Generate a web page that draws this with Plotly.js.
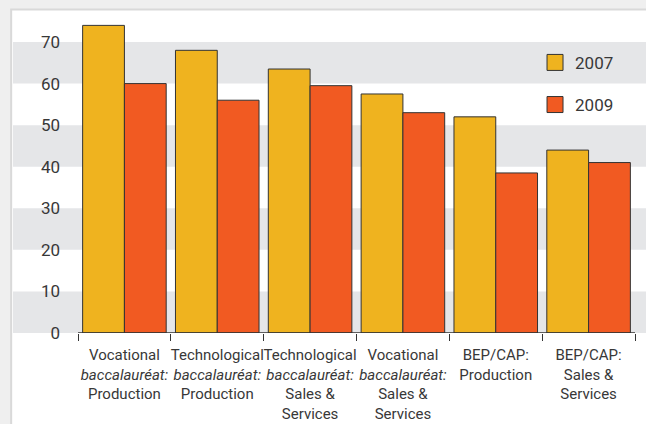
<!DOCTYPE html>
<html>
<head>
<meta charset="utf-8">
<script src="https://cdn.plot.ly/plotly-3.0.1.min.js"></script>
<style>html,body{margin:0;padding:0;background:#efefef;}#chart{width:646px;height:424px;}</style>
</head>
<body>
<div id="chart"></div>
<script>
var categories = [
  "Vocational<br><i>baccalauréat:</i><br>Production",
  "Technological<br><i>baccalauréat:</i><br>Production",
  "Technological<br><i>baccalauréat:</i><br>Sales &amp;<br>Services",
  "Vocational<br><i>baccalauréat:</i><br>Sales &amp;<br>Services",
  "BEP/CAP:<br>Production",
  "BEP/CAP:<br>Sales &amp;<br>Services"
];
var values2007 = [74, 68, 63.5, 57.5, 52, 44];
var values2009 = [60, 56, 59.5, 53, 38.5, 41];
var seriesNames = ["2007", "2009"];
var yTicks = [0, 10, 20, 30, 40, 50, 60, 70];

var col2007 = "#EFB31F", col2009 = "#F15A22", edge = "#333333";
var FONT = "Roboto, Liberation Sans, sans-serif";

var traces = [
  {type: "bar", x: categories, y: values2007, name: seriesNames[0], showlegend: false,
   marker: {color: col2007, line: {color: edge, width: 1}}, hoverinfo: "y"},
  {type: "bar", x: categories, y: values2009, name: seriesNames[1], showlegend: false,
   marker: {color: col2009, line: {color: edge, width: 1}}, hoverinfo: "y"},
  {type: "scatter", mode: "markers", x: [null], y: [null], name: seriesNames[0], legendgroup: "a",
   marker: {symbol: "square", size: 16, color: col2007, line: {color: edge, width: 1}}},
  {type: "scatter", mode: "markers", x: [null], y: [null], name: seriesNames[1], legendgroup: "b",
   marker: {symbol: "square", size: 16, color: col2009, line: {color: edge, width: 1}}}
];

var shapes = [
  {type: "rect", xref: "paper", yref: "paper", x0: -0.12, x1: 1.1, y0: -0.5, y1: 1.0015,
   fillcolor: "#ffffff", line: {color: "#d9d9d9", width: 2}, layer: "below"}
];
var bands = [[0, 10], [20, 30], [40, 50], [60, 70]];
bands.forEach(function (b) {
  shapes.push({type: "rect", xref: "paper", yref: "y", x0: -0.1167, x1: 1.05, y0: b[0], y1: b[1],
    fillcolor: "#e5e6e8", line: {width: 0}, layer: "below"});
});
shapes.push({type: "line", xref: "paper", yref: "y", x0: 0, x1: 1, y0: 0, y1: 0,
  line: {color: "#333333", width: 1.5}, layer: "above"});

var layout = {
  width: 646, height: 424,
  margin: {l: 78, r: 11, t: 10, b: 91, pad: 0},
  paper_bgcolor: "#efefef",
  plot_bgcolor: "rgba(0,0,0,0)",
  font: {family: FONT, color: "#383838", size: 15},
  bargap: 0.1, bargroupgap: 0,
  barmode: "group",
  showlegend: true,
  legend: {x: 0.8205, y: 0.892, xanchor: "left", yanchor: "top", bgcolor: "rgba(0,0,0,0)",
    font: {family: FONT, size: 17, color: "#383838"}, tracegroupgap: 17, traceorder: "grouped",
    itemwidth: 30},
  xaxis: {type: "category", range: [-0.5, 5.5], showgrid: false, zeroline: false,
    showline: false, ticks: "outside", ticklen: 7, tickwidth: 1, tickcolor: "#333333",
    tickson: "boundaries", ticklabelstandoff: 11,
    tickfont: {family: FONT, size: 15, color: "#383838"},
    tickangle: 0, fixedrange: true},
  yaxis: {range: [0, 77.7], tickvals: yTicks, ticktext: yTicks.map(String), showgrid: false,
    zeroline: false, showline: false, ticks: "", ticklabelstandoff: 17,
    tickfont: {family: FONT, size: 17, color: "#383838"}, fixedrange: true},
  shapes: shapes
};

Plotly.newPlot("chart", traces, layout, {displayModeBar: false, staticPlot: true});
</script>
</body>
</html>
